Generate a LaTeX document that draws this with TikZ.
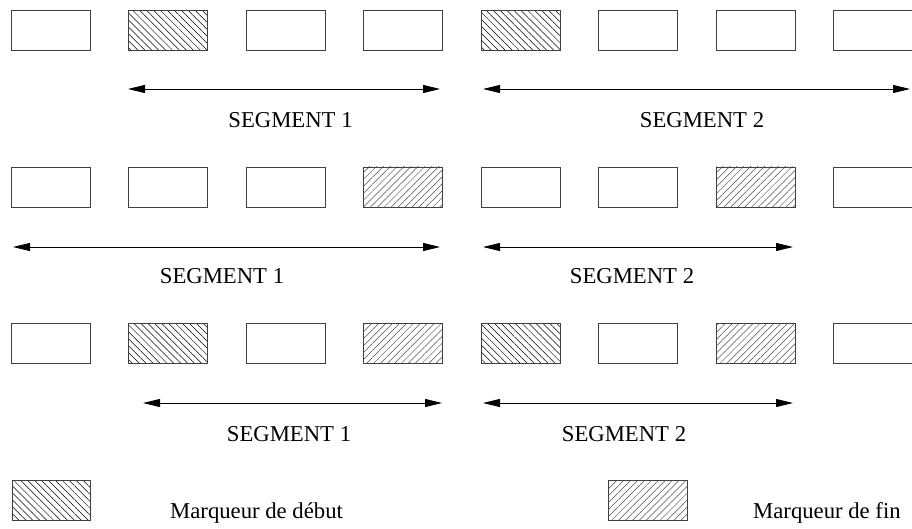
\documentclass[tikz,border=0pt]{standalone}
\usepackage{fontspec}
\setmainfont{Liberation Serif}
\usetikzlibrary{patterns.meta,arrows.meta}
\tikzset{
  cell/.style={draw=black!75,line width=0.8pt,minimum width=79pt,minimum height=40pt,inner sep=0pt,outer sep=0pt},
  startm/.style={cell,pattern={Lines[angle=-45,distance=4.9pt,line width=0.5pt]}},
  endm/.style={cell,pattern={Lines[angle=45,distance=4.9pt,line width=0.5pt]},pattern color=black!70},
  seg/.style={line width=0.8pt,{Triangle[length=17pt,width=8pt]}-{Triangle[length=17pt,width=8pt]}},
  lbl/.style={font=\fontsize{22.7}{24}\selectfont,inner sep=0pt}
}
\begin{document}
\begin{tikzpicture}[x=1pt,y=-1pt]
\useasboundingbox (0,0) rectangle (912,529);
% row 1
\foreach \i/\s in {0/cell,1/startm,2/cell,3/cell,4/startm,5/cell,6/cell,7/cell}
  \node[\s] (a\i) at ({50.5+117.5*\i},30.5) {};
\coordinate (a1l) at (128,89); \coordinate (a1r) at (440,89);
\coordinate (a2l) at (483,89); \coordinate (a2r) at (910,89);
\draw[seg] (a1l) -- (a1r);
\draw[seg] (a2l) -- (a2r);
\node[lbl] (la1) at (290.5,120) {SEGMENT 1};
\node[lbl] (la2) at (702,120) {SEGMENT 2};
% row 2
\foreach \i/\s in {0/cell,1/cell,2/cell,3/endm,4/cell,5/cell,6/endm,7/cell}
  \node[\s] (b\i) at ({50.5+117.5*\i},187) {};
\coordinate (b1l) at (13,247); \coordinate (b1r) at (440,247);
\coordinate (b2l) at (483,247); \coordinate (b2r) at (793,247);
\draw[seg] (b1l) -- (b1r);
\draw[seg] (b2l) -- (b2r);
\node[lbl] (lb1) at (222,276) {SEGMENT 1};
\node[lbl] (lb2) at (632,276) {SEGMENT 2};
% row 3
\foreach \i/\s in {0/cell,1/startm,2/cell,3/endm,4/startm,5/cell,6/endm,7/cell}
  \node[\s] (c\i) at ({50.5+117.5*\i},343) {};
\coordinate (c1l) at (143,403); \coordinate (c1r) at (442,403);
\coordinate (c2l) at (483,403); \coordinate (c2r) at (793,403);
\draw[seg] (c1l) -- (c1r);
\draw[seg] (c2l) -- (c2r);
\node[lbl] (lc1) at (289,434) {SEGMENT 1};
\node[lbl] (lc2) at (624,434) {SEGMENT 2};
% legend
\node[startm,minimum width=78pt] (ls) at (51,500) {};
\node[lbl,anchor=base west] (lst) at (170,518) {Marqueur de début};
\node[endm] (le) at (647.5,500) {};
\node[lbl,anchor=base west] (let) at (753,518) {Marqueur de fin};
\end{tikzpicture}
\end{document}
